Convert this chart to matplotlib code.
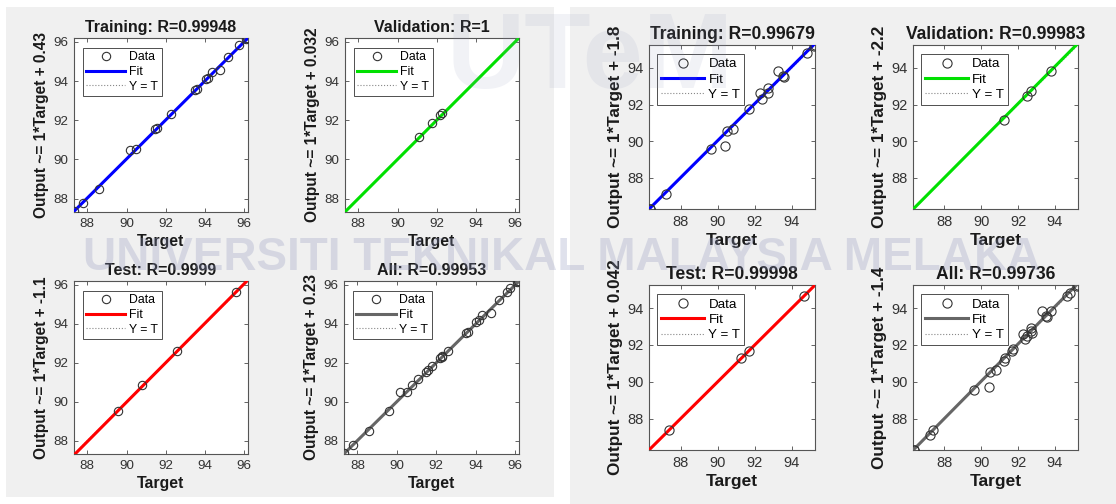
import numpy as np
import matplotlib
matplotlib.use("Agg")
import matplotlib.pyplot as plt
from matplotlib.patches import Rectangle
from matplotlib.lines import Line2D

plt.rcParams['font.family'] = ['Liberation Sans', 'DejaVu Sans']

W, H = 1116, 504

# ---- data: left figure (first network) ----
left_train_t = [87.32, 87.80, 88.59, 90.17, 90.50, 91.47, 91.56, 92.28, 93.50, 93.59,
                94.04, 94.15, 94.34, 94.76, 95.17, 95.76, 96.08, 96.15]
left_train_y = [87.35, 87.79, 88.51, 90.48, 90.52, 91.55, 91.63, 92.32, 93.55, 93.60,
                94.12, 94.18, 94.45, 94.58, 95.23, 95.82, 96.17, 96.22]
left_val_t = [91.09, 91.77, 92.19, 92.28]
left_val_y = [91.16, 91.85, 92.27, 92.36]
left_test_t = [89.58, 90.77, 92.58, 95.57]
left_test_y = [89.51, 90.84, 92.61, 95.63]

# ---- data: right figure (second network) ----
right_train_t = [86.34, 86.38, 87.24, 89.62, 90.41, 90.49, 90.81, 91.71, 92.29, 92.38,
                 92.70, 92.74, 93.28, 93.51, 93.59, 94.81, 95.17, 95.26]
right_train_y = [86.32, 86.30, 87.10, 89.57, 89.72, 90.53, 90.66, 91.76, 92.61, 92.30,
                 92.93, 92.64, 93.82, 93.55, 93.51, 94.81, 95.18, 95.23]
right_val_t = [91.21, 92.50, 92.72, 93.80]
right_val_y = [91.13, 92.48, 92.74, 93.82]
right_test_t = [87.39, 91.28, 91.67, 94.68]
right_test_y = [87.38, 91.30, 91.66, 94.66]

# fit lines (slope, intercept) and titles
left_fits = [(0.9955, 0.43), (0.9997, 0.032), (1.012, -1.1), (0.9975, 0.23)]
right_fits = [(1.01, -0.87), (1.012, -1.05), (0.9995, 0.042), (1.012, -1.05)]
left_R = ['0.99948', '1', '0.9999', '0.99953']
right_R = ['0.99679', '0.99983', '0.99998', '0.99736']
left_icpt_lbl = ['0.43', '0.032', '-1.1', '0.23']
right_icpt_lbl = ['-1.8', '-2.2', '0.042', '-1.4']
names = ['Training', 'Validation', 'Test', 'All']
colors = ['#0000ff', '#00e000', '#ff0000', '#666666']

left_lims = (87.32, 96.2)
right_lims = (86.3, 95.25)
left_ticks = [88, 90, 92, 94, 96]
right_ticks = [88, 90, 92, 94]

fig = plt.figure(figsize=(W / 100, H / 100), dpi=100, facecolor='white')

# grey figure backgrounds of the two screenshots
fig.patches.append(Rectangle((6 / W, (H - 497) / H), (554 - 6) / W, (497 - 7) / H,
                             transform=fig.transFigure, facecolor='#f0f0f0', edgecolor='none', zorder=-5))
fig.patches.append(Rectangle((570 / W, 0), (W - 570) / W, (H - 7) / H,
                             transform=fig.transFigure, facecolor='#f0f0f0', edgecolor='none', zorder=-5))


def px_axes(x0, x1, y0, y1):
    return fig.add_axes([x0 / W, (H - y1) / H, (x1 - x0) / W, (y1 - y0) / H])


def draw_panel(ax, t, y, fit, color, lims, ticks, title, ylab, sc):
    lo, hi = lims
    xs = np.array([lo, hi])
    ax.plot(xs, xs, ':', color='#888888', lw=0.8, label='Y = T', zorder=2)
    ax.plot(xs, fit[0] * xs + fit[1], '-', color=color, lw=2.2, label='Fit', zorder=3)
    ax.plot(t, y, 'o', mfc='none', mec='#333333', mew=0.8, ms=6 * sc, label='Data', zorder=4)
    ax.set_xlim(lo, hi)
    ax.set_ylim(lo, hi)
    ax.set_xticks(ticks)
    ax.set_yticks(ticks)
    ax.tick_params(direction='in', top=True, right=True, length=3, width=0.5,
                   colors='#262626', labelcolor='#333333', labelsize=9.6 * sc, pad=4)
    for s in ax.spines.values():
        s.set_color('#555555')
        s.set_linewidth(0.8)
    ax.set_title(title, fontsize=11.5 * sc, fontweight='bold', color='#1a1a1a', pad=4)
    ax.set_xlabel('Target', fontsize=11.4 * sc, fontweight='bold', color='#1a1a1a', labelpad=3.5)
    ax.set_ylabel(ylab, fontsize=11.2 * sc, fontweight='bold', color='#1a1a1a', labelpad=3)
    h = [Line2D([], [], ls='none', marker='o', mfc='none', mec='#333333', mew=0.8, ms=6 * sc),
         Line2D([], [], color=color, lw=2.2),
         Line2D([], [], color='#888888', lw=0.8, ls=':')]
    leg = ax.legend(h, ['Data', 'Fit', 'Y = T'], loc='upper left',
                    bbox_to_anchor=(0.05, 0.945), borderaxespad=0, fontsize=8.8 * sc,
                    fancybox=False, framealpha=1, edgecolor='#333333', handlelength=3.2,
                    handletextpad=0.3, labelspacing=0.22, borderpad=0.3)
    leg.get_frame().set_linewidth(0.6)
    leg.set_zorder(5)


left_boxes = [(74, 248, 38, 212), (345, 519, 38, 212), (74, 248, 281, 454), (344, 519, 281, 454)]
right_boxes = [(649, 815, 45, 209), (913, 1078, 45, 209), (649, 815, 285, 450), (913, 1078, 285, 450)]

left_sets = [(left_train_t, left_train_y), (left_val_t, left_val_y), (left_test_t, left_test_y),
             (left_train_t + left_val_t + left_test_t, left_train_y + left_val_y + left_test_y)]
right_sets = [(right_train_t, right_train_y), (right_val_t, right_val_y), (right_test_t, right_test_y),
              (right_train_t + right_val_t + right_test_t, right_train_y + right_val_y + right_test_y)]

for i in range(4):
    ax = px_axes(*left_boxes[i])
    draw_panel(ax, left_sets[i][0], left_sets[i][1], left_fits[i], colors[i], left_lims, left_ticks,
               names[i] + ': R=' + left_R[i], 'Output ~= 1*Target + ' + left_icpt_lbl[i], 1.0)
    ax = px_axes(*right_boxes[i])
    draw_panel(ax, right_sets[i][0], right_sets[i][1], right_fits[i], colors[i], right_lims, right_ticks,
               names[i] + ': R=' + right_R[i], 'Output ~= 1*Target + ' + right_icpt_lbl[i], 1.1)

# faint university watermark over the screenshot
fig.text(562 / W, 1 - 258 / H, 'UNIVERSITI TEKNIKAL MALAYSIA MELAKA', ha='center', va='center',
         fontsize=33, fontweight='bold', color='#8f96bd', alpha=0.28, zorder=10)
fig.text(590 / W, 1 - 60 / H, 'UTeM', ha='center', va='center',
         fontsize=78, fontweight='bold', color='#8f96bd', alpha=0.12, zorder=10)

fig.savefig('out.png', dpi=100, facecolor=fig.get_facecolor())
